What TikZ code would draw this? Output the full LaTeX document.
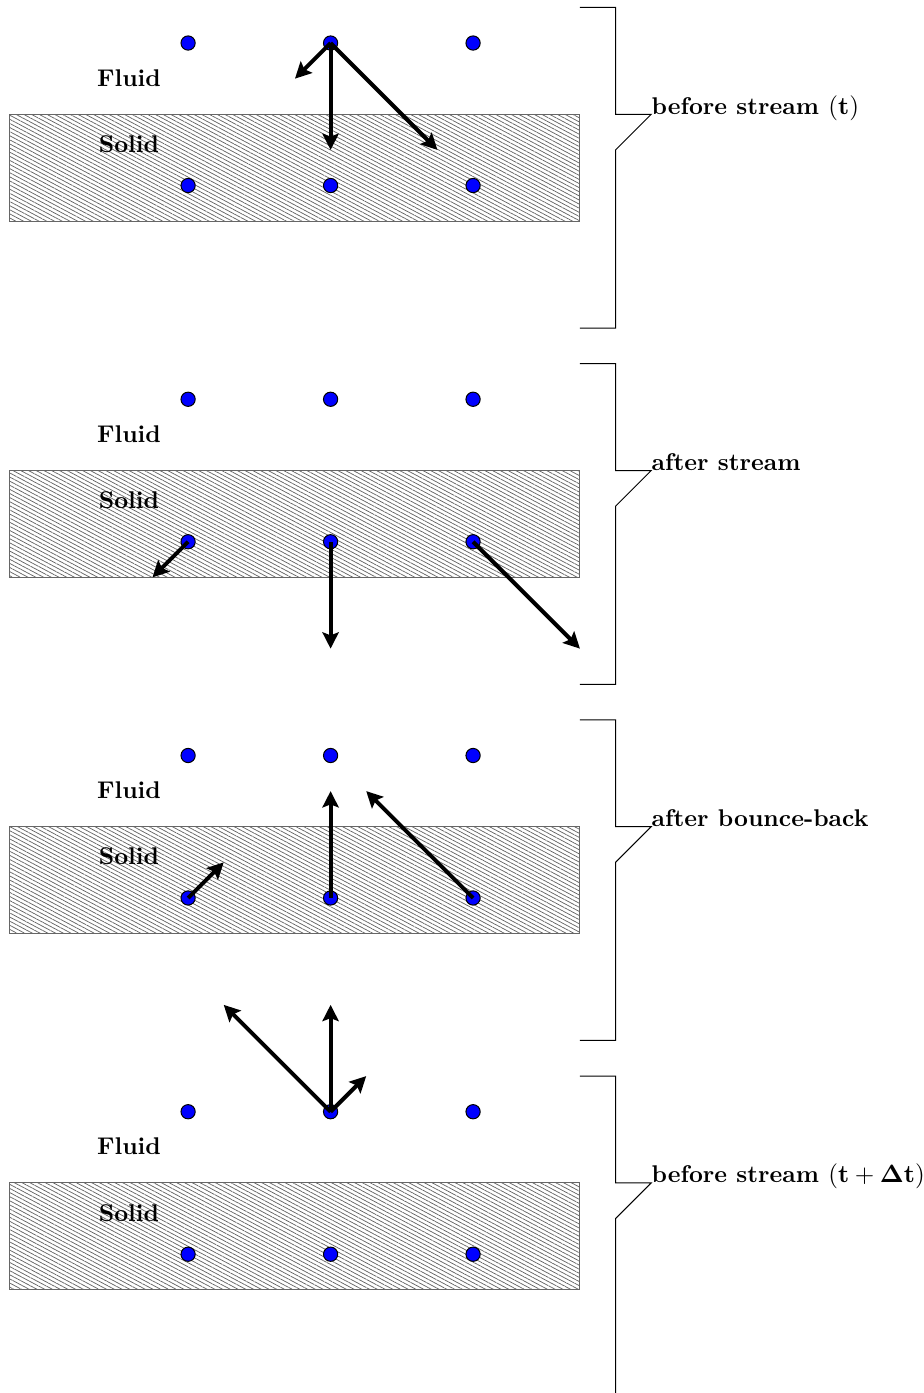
\documentclass[tikz,border=0pt]{standalone}
\usepackage{amsmath}
\usetikzlibrary{arrows.meta, patterns.meta}
\tikzset{
x=2cm, y=2cm, % one lattice spacing
>={Stealth[length=6.5pt, width=6.5pt, inset=1.2pt]}, % bold arrow heads
site/.style={circle, draw=black, fill=blue, inner sep=0pt, minimum size=0.2cm}, % lattice node
vel/.style={->, line width=1.6pt}, % populations
wall/.style={draw=black!60, thin, pattern={Lines[angle=-28, distance=1.45pt, line width=0.3pt]}, pattern color=black!60}, % solid region
region/.style={font=\fontsize{9.65}{11}\selectfont\bfseries},
phase/.style={font=\fontsize{9.65}{11}\selectfont\bfseries, anchor=base west, inner sep=0pt}, % step labels
}

\begin{document}
\begin{tikzpicture}
        \useasboundingbox (-0.07,0.302) rectangle (6.414,-9.474);

        % the four snapshots
        \foreach \p/\y in {1/0, 2/-2.5, 3/-5, 4/-7.5} {
            \draw[wall] (0,\y-0.5) rectangle (4,\y-1.25);
            \foreach \i/\x in {a/1.25, b/2.25, c/3.25} {
                \node[site] (f\p\i) at (\x,\y) {};
                \node[site] (s\p\i) at (\x,\y-1) {};
            }
            \node[region] (fluid\p) at (0.835,\y-0.245) {Fluid};
            \node[region] (solid\p) at (0.835,\y-0.71) {Solid};
        }

        % before stream
        \coordinate (t1a) at (2,-0.25);
        \coordinate (t1b) at (2.25,-0.75);
        \coordinate (t1c) at (3,-0.75);
        \draw[vel] (f1b.center) -- (t1a);
        \draw[vel] (f1b.center) -- (t1b);
        \draw[vel] (f1b.center) -- (t1c);

        % after stream
        \coordinate (t2a) at (1,-3.75);
        \coordinate (t2b) at (2.25,-4.25);
        \coordinate (t2c) at (4,-4.25);
        \draw[vel] (s2a.center) -- (t2a);
        \draw[vel] (s2b.center) -- (t2b);
        \draw[vel] (s2c.center) -- (t2c);

        % after bounce-back
        \coordinate (t3a) at (1.5,-5.75);
        \coordinate (t3b) at (2.25,-5.25);
        \coordinate (t3c) at (2.5,-5.25);
        \draw[vel] (s3a.center) -- (t3a);
        \draw[vel] (s3b.center) -- (t3b);
        \draw[vel] (s3c.center) -- (t3c);

        % next time step
        \coordinate (t4a) at (1.5,-6.75);
        \coordinate (t4b) at (2.25,-6.75);
        \coordinate (t4c) at (2.5,-7.25);
        \draw[vel] (f4b.center) -- (t4a);
        \draw[vel] (f4b.center) -- (t4b);
        \draw[vel] (f4b.center) -- (t4c);

        % braces and labels
        \draw (4,0.25) -| (4.25,-0.5) -- (4.5,-0.5) -- (4.25,-0.75) |- (4,-2);
        \node[phase] (lab1) at (4.5,-0.5) {before stream $(\mathbf{t})$};
        \draw (4,-2.25) -| (4.25,-3) -- (4.5,-3) -- (4.25,-3.25) |- (4,-4.5);
        \node[phase] (lab2) at (4.5,-3) {after stream};
        \draw (4,-4.75) -| (4.25,-5.5) -- (4.5,-5.5) -- (4.25,-5.75) |- (4,-7);
        \node[phase] (lab3) at (4.5,-5.5) {after bounce-back};
        \draw (4,-7.25) -| (4.25,-8) -- (4.5,-8) -- (4.25,-8.25) -- (4.25,-9.5);
        \node[phase] (lab4) at (4.5,-8) {before stream $(\mathbf{t}+\mathbf{\Delta t})$};
    \end{tikzpicture}
\end{document}
